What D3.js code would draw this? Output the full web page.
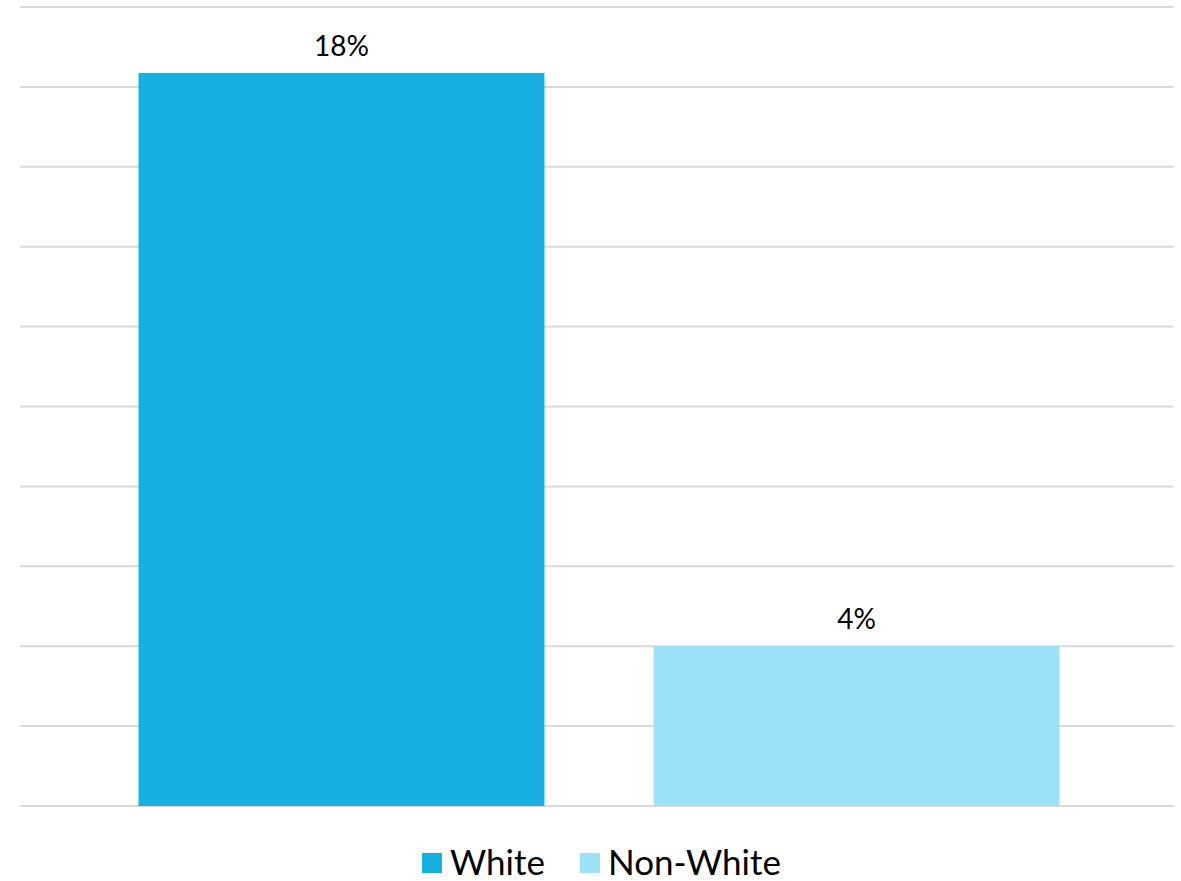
<!DOCTYPE html>
<html><head><meta charset="utf-8">
<script src="https://cdn.jsdelivr.net/npm/d3@7"></script>
<style>html,body{margin:0;padding:0;background:#fff;}svg{display:block;}</style>
</head><body>
<svg id="c" width="1181" height="881"></svg>
<script>
const categories = ["White", "Non-White"];
const values = [18.35, 4.0];
const labels = ["18%", "4%"];
const colors = ["#18b0e3", "#9be2f8"];
const gridTicks = [0, 2, 4, 6, 8, 10, 12, 14, 16, 18, 20];

const svg = d3.select("#c");
const plotLeft = 20, plotRight = 1174, plotTop = 7, plotBottom = 806;
const y = d3.scaleLinear().domain([0, 20]).range([plotBottom, plotTop]);
const x = d3.scaleBand().domain(categories).range([plotLeft + 2, plotRight + 2]).paddingInner(0.2117).paddingOuter(0.2262);

svg.append("g").selectAll("line").data(gridTicks).join("line")
  .attr("x1", plotLeft).attr("x2", plotRight)
  .attr("y1", d => y(d)).attr("y2", d => y(d))
  .attr("stroke", "#d9d9d9").attr("stroke-width", 2);

svg.append("g").selectAll("rect").data(categories).join("rect")
  .attr("x", d => x(d)).attr("width", x.bandwidth())
  .attr("y", (d, i) => y(values[i])).attr("height", (d, i) => plotBottom - y(values[i]))
  .attr("fill", (d, i) => colors[i]);

svg.append("g").selectAll("text").data(categories).join("text")
  .attr("x", d => x(d) + x.bandwidth() / 2)
  .attr("y", (d, i) => y(values[i]) - 17)
  .attr("text-anchor", "middle")
  .attr("font-family", "Lato, sans-serif").attr("font-size", 28).attr("fill", "#000")
  .text((d, i) => labels[i]);

// legend
const legend = svg.append("g");
const legX = [422, 580];
categories.forEach((c, i) => {
  legend.append("rect").attr("x", legX[i]).attr("y", 853).attr("width", 20).attr("height", 20).attr("fill", colors[i]);
  legend.append("text").attr("x", legX[i] + 28).attr("y", 875)
    .attr("font-family", "Lato, sans-serif").attr("font-size", 35).attr("fill", "#000").text(c);
});
</script>
</body></html>
